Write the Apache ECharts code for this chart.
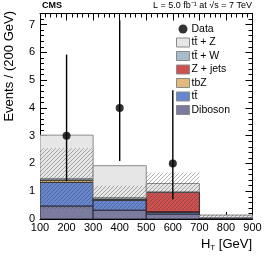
<!DOCTYPE html>
<html><head><meta charset="utf-8">
<script src="https://cdn.jsdelivr.net/npm/echarts@6/dist/echarts.min.js"></script>
<style>html,body{margin:0;padding:0;background:#fff}#c{width:266px;height:258px}</style>
</head><body><div id="c"></div>
<script>
// ---- data ----
const binEdges = [100, 300, 500, 700, 900];
const xTicks = [100, 200, 300, 400, 500, 600, 700, 800, 900];
const yTicks = [0, 1, 2, 3, 4, 5, 6, 7];
// stacked components, bottom to top
const diboson = [0.47, 0.32, 0.18, 0.04];
const ttbar   = [0.85, 0.36, 0.07, 0.01];
const tbZ     = [0.08, 0.03, 0.01, 0.00];
const zjets   = [0.00, 0.00, 0.70, 0.00];
const ttW     = [0.06, 0.06, 0.02, 0.00];
const ttZ     = [1.56, 1.15, 0.30, 0.09];
// uncertainty band
const uncLow  = [0.37, 0.34, 0.32, 0.00];
const uncHigh = [2.55, 1.20, 1.67, 0.16];
// data
const dataX   = [200, 400, 600];
const dataY   = [3, 4, 2];
const dataLo  = [1.37, 2.09, 0.71];
const dataHi  = [5.92, 7.16, 4.64];

const comps = [
  {name: 'Diboson', vals: diboson, color: '#7b7b9e', border: '#2a2a3a'},
  {name: 't\u0074\u0304', vals: ttbar, color: '#6687cf', border: '#2a2a3a'},
  {name: 'tbZ', vals: tbZ, color: '#e2b97f', border: '#3a3020'},
  {name: 'Z + jets', vals: zjets, color: '#d05050', border: '#3a1a1a'},
  {name: 't\u0074\u0304 + W', vals: ttW, color: '#a9bccb', border: '#333333'},
  {name: 't\u0074\u0304 + Z', vals: ttZ, color: '#e6e6e6', border: '#8c8c8c'}
];

const chart = echarts.init(document.getElementById('c'), null, {renderer: 'canvas'});

// hatch pattern
const pc = document.createElement('canvas');
pc.width = 4; pc.height = 4;
const g = pc.getContext('2d');
g.strokeStyle = 'rgba(60,60,60,0.5)';
g.lineWidth = 0.8;
g.beginPath();
g.moveTo(0, 4); g.lineTo(4, 0);
g.moveTo(-1, 1); g.lineTo(1, -1);
g.moveTo(3, 5); g.lineTo(5, 3);
g.stroke();

function rectRender(fill, stroke, lw) {
  return function (params, api) {
    const x0 = api.value(0), x1 = api.value(1), y0 = api.value(2), y1 = api.value(3);
    if (y1 <= y0) return null;
    const p0 = api.coord([x0, y0]), p1 = api.coord([x1, y1]);
    return {type: 'rect', shape: {x: p0[0], y: p1[1], width: p1[0] - p0[0], height: p0[1] - p1[1]},
      style: {fill: fill, stroke: stroke, lineWidth: lw}};
  };
}

const series = [];
const base = [0, 0, 0, 0];
comps.forEach(function (c, ci) {
  const d = [];
  for (let i = 0; i < 4; i++) {
    d.push([binEdges[i], binEdges[i + 1], base[i], base[i] + c.vals[i]]);
    base[i] += c.vals[i];
  }
  series.push({type: 'custom', name: c.name, renderItem: rectRender(c.color, c.border, 1),
    itemStyle: {color: c.color, borderColor: '#888'}, data: d, z: 2 + ci, clip: true});
});
// hatch band
const hd = [];
for (let i = 0; i < 4; i++) hd.push([binEdges[i], binEdges[i + 1], uncLow[i], uncHigh[i]]);
series.push({type: 'custom', name: 'unc', renderItem: rectRender({image: pc, repeat: 'repeat'}, null, 0),
  data: hd, z: 10, silent: true});
// error bars
const ed = dataX.map(function (x, i) { return [x, dataLo[i], dataHi[i]]; });
series.push({type: 'custom', name: 'err', z: 11, renderItem: function (params, api) {
  const a = api.coord([api.value(0), api.value(1)]), b = api.coord([api.value(0), api.value(2)]);
  return {type: 'line', shape: {x1: a[0], y1: a[1], x2: b[0], y2: b[1]}, style: {stroke: '#000', lineWidth: 1.4}};
}, data: ed});
series.push({type: 'scatter', name: 'Data', symbol: 'circle', symbolSize: 8, itemStyle: {color: '#000'},
  data: dataX.map(function (x, i) { return [x, dataY[i]]; }), z: 12});

const legendNames = ['Data', 't\u0074\u0304 + Z', 't\u0074\u0304 + W', 'Z + jets', 'tbZ', 't\u0074\u0304', 'Diboson'];
const legendData = legendNames.map(function (n) {
  if (n === 'Data') return {name: n, icon: 'circle', itemStyle: {color: '#000', borderWidth: 0}};
  const c = comps.find(function (cc) { return cc.name === n; });
  return {name: n, icon: 'rect', itemStyle: {color: c.color, borderColor: '#8a8a8a', borderWidth: 1}};
});

const axisCommon = {
  type: 'value', axisLine: {show: true, onZero: false, lineStyle: {color: '#000', width: 1}},
  splitLine: {show: false}
};

chart.setOption({
  animation: false,
  grid: {left: 40, right: 13.5, top: 13.5, bottom: 39},
  legend: {
    orient: 'vertical', left: 176, top: 23, padding: 0, itemWidth: 13, itemHeight: 9, itemGap: 1.5,
    textStyle: {fontFamily: 'Liberation Sans', fontSize: 10.5, color: '#000', lineHeight: 12, padding: [0, 0, 0, -3]},
    data: legendData, selectedMode: false
  },
  xAxis: [
    Object.assign({}, axisCommon, {min: binEdges[0], max: binEdges[4], interval: xTicks[1] - xTicks[0],
      axisTick: {inside: true, length: 7, lineStyle: {color: '#000'}},
      minorTick: {show: true, splitNumber: 5, length: 4, lineStyle: {color: '#000'}},
      axisLabel: {fontFamily: 'Liberation Sans', fontSize: 11, color: '#000', margin: 3}}),
    Object.assign({}, axisCommon, {position: 'top', min: binEdges[0], max: binEdges[4], interval: xTicks[1] - xTicks[0],
      axisTick: {inside: true, length: 7, lineStyle: {color: '#000'}},
      minorTick: {show: true, splitNumber: 5, length: 4, lineStyle: {color: '#000'}},
      axisLabel: {show: false}})
  ],
  yAxis: [
    Object.assign({}, axisCommon, {min: 0, max: 7.4, interval: yTicks[1] - yTicks[0],
      axisTick: {inside: true, length: 7, lineStyle: {color: '#000'}},
      minorTick: {show: true, splitNumber: 5, length: 4, lineStyle: {color: '#000'}},
      axisLabel: {fontFamily: 'Liberation Sans', fontSize: 11, color: '#000', margin: 5,
        formatter: function (v) { return yTicks.indexOf(v) >= 0 ? String(v) : ''; }}}),
    Object.assign({}, axisCommon, {position: 'right', min: 0, max: 7.4, interval: yTicks[1] - yTicks[0],
      axisTick: {inside: true, length: 7, lineStyle: {color: '#000'}},
      minorTick: {show: true, splitNumber: 5, length: 4, lineStyle: {color: '#000'}},
      axisLabel: {show: false}})
  ],
  graphic: [
    {type: 'text', x: 42, y: 1, style: {text: 'CMS', font: 'bold 9px Liberation Sans', fill: '#000'}},
    {type: 'text', x: 252, y: 1, style: {text: 'L = 5.0 fb\u207B\u00B9 at \u221As = 7 TeV', font: '9px Liberation Sans', fill: '#000', align: 'right'}},
    {type: 'text', x: 3, y: 11, rotation: Math.PI / 2,
      style: {text: 'Events / (200 GeV)', font: '13px Liberation Sans', fill: '#000', align: 'right', verticalAlign: 'top'}},
    {type: 'text', x: 252, y: 236, style: {
      text: '{a|H}{b|T}{a| [GeV]}', align: 'right',
      rich: {a: {fontFamily: 'Liberation Sans', fontSize: 13, fill: '#000', color: '#000'},
             b: {fontFamily: 'Liberation Sans', fontSize: 8, fill: '#000', color: '#000', padding: [8, 0, 0, 0]}}}}
  ],
  series: series
});
</script></body></html>
